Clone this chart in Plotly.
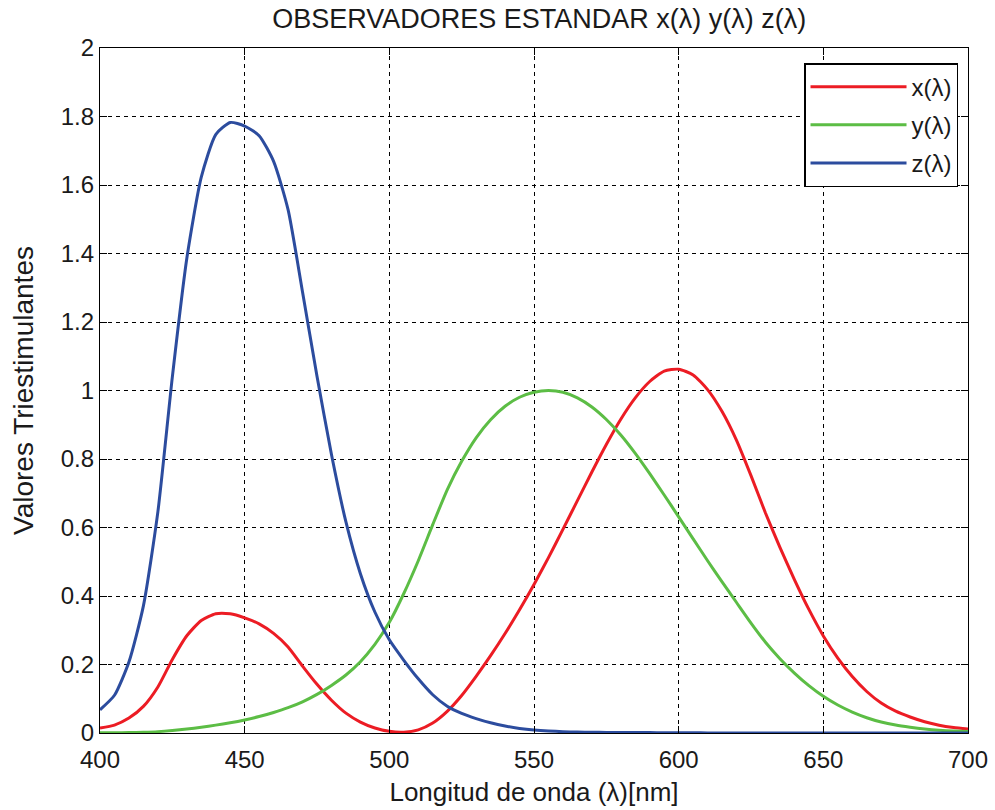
import plotly.graph_objects as go

# CIE 1931 standard observer, 5 nm steps
wavelength = list(range(400, 701, 5))

x_bar = [0.01431, 0.02319, 0.04351, 0.07763, 0.13438, 0.21477, 0.2839, 0.3285,
         0.34828, 0.34806, 0.3362, 0.3187, 0.2908, 0.2511, 0.19536, 0.1421,
         0.09564, 0.05795, 0.03201, 0.0147, 0.0049, 0.0024, 0.0093, 0.0291,
         0.06327, 0.1096, 0.1655, 0.22575, 0.2904, 0.3597, 0.43345, 0.51205,
         0.5945, 0.6784, 0.7621, 0.8425, 0.9163, 0.9786, 1.0263, 1.0567,
         1.0622, 1.0456, 1.0026, 0.9384, 0.85445, 0.7514, 0.6424, 0.5419,
         0.4479, 0.3608, 0.2835, 0.2187, 0.1649, 0.1212, 0.0874, 0.0636,
         0.04677, 0.0329, 0.0227, 0.01584, 0.011359]

y_bar = [0.000396, 0.00064, 0.00121, 0.00218, 0.004, 0.0073, 0.0116, 0.01684,
         0.023, 0.0298, 0.038, 0.048, 0.06, 0.0739, 0.09098, 0.1126,
         0.13902, 0.1693, 0.20802, 0.2586, 0.323, 0.4073, 0.503, 0.6082,
         0.71, 0.7932, 0.862, 0.91485, 0.954, 0.9803, 0.99495, 1.0,
         0.995, 0.9786, 0.952, 0.9154, 0.87, 0.8163, 0.757, 0.6949,
         0.631, 0.5668, 0.503, 0.4412, 0.381, 0.321, 0.265, 0.217,
         0.175, 0.1382, 0.107, 0.0816, 0.061, 0.04458, 0.032, 0.0232,
         0.017, 0.01192, 0.00821, 0.005723, 0.004102]

z_bar = [0.06785, 0.1102, 0.2074, 0.3713, 0.6456, 1.03905, 1.3856, 1.62296,
         1.74706, 1.7826, 1.77211, 1.7441, 1.6692, 1.5281, 1.28764, 1.0419,
         0.81295, 0.6162, 0.46518, 0.3533, 0.272, 0.2123, 0.1582, 0.1117,
         0.07825, 0.05725, 0.04216, 0.02984, 0.0203, 0.0134, 0.00875, 0.00575,
         0.0039, 0.00275, 0.0021, 0.0018, 0.00165, 0.0014, 0.0011, 0.001,
         0.0008, 0.0006, 0.00034, 0.00024, 0.00019, 0.0001, 0.00005, 0.00003,
         0.00002, 0.00001, 0.0, 0.0, 0.0, 0.0, 0.0, 0.0,
         0.0, 0.0, 0.0, 0.0, 0.0]

series_names = ["x(\u03bb)", "y(\u03bb)", "z(\u03bb)"]
series_colors = ["#ec1c24", "#5cbd45", "#2c4c9e"]

x_ticks = [400, 450, 500, 550, 600, 650, 700]
y_ticks = [0, 0.2, 0.4, 0.6, 0.8, 1, 1.2, 1.4, 1.6, 1.8, 2]
y_tick_text = ["0", "0.2", "0.4", "0.6", "0.8", "1", "1.2", "1.4", "1.6", "1.8", "2"]

FONT = "Liberation Sans, Arial, sans-serif"
INK = "#1a1a1a"

fig = go.Figure()
for name, values, color in zip(series_names, [x_bar, y_bar, z_bar], series_colors):
    fig.add_trace(go.Scatter(
        x=wavelength, y=values, mode="lines", name=name, legendgroup=name,
        line=dict(color=color, width=3, shape="spline", smoothing=0.6),
    ))

axis_common = dict(
    showline=True, linecolor="black", linewidth=1.3, mirror="ticks",
    ticks="inside", ticklen=7, tickwidth=1, tickcolor="black",
    showgrid=True, gridcolor="black", gridwidth=1, griddash="4px,4px",
    zeroline=False, automargin=False,
    tickfont=dict(family=FONT, size=24, color=INK),
)

fig.update_xaxes(
    range=[400, 700], tickvals=x_ticks, ticklabelstandoff=5,
    title=dict(text="Longitud de onda (\u03bb)[nm]",
               font=dict(family=FONT, size=26, color=INK), standoff=10),
    **axis_common,
)
fig.update_yaxes(
    range=[0, 2], tickvals=y_ticks, ticktext=y_tick_text,
    title=dict(text="Valores Triestimulantes",
               font=dict(family=FONT, size=28, color=INK), standoff=18),
    **axis_common,
)

fig.update_layout(
    width=995, height=810,
    margin=dict(l=100, r=27, t=48, b=77),
    paper_bgcolor="white", plot_bgcolor="white",
    title=dict(text="OBSERVADORES ESTANDAR x(\u03bb) y(\u03bb) z(\u03bb)",
               font=dict(family=FONT, size=27, color=INK),
               x=0.506, xref="paper", xanchor="center",
               y=0.977, yanchor="middle", yref="container"),
    showlegend=True,
    legend=dict(
        x=0.9885, xanchor="right", y=0.978, yanchor="top",
        bgcolor="white", bordercolor="black", borderwidth=1.5,
        font=dict(family=FONT, size=24, color=INK),
        itemwidth=96, tracegroupgap=4,
    ),
)

fig.write_html("out.html")
